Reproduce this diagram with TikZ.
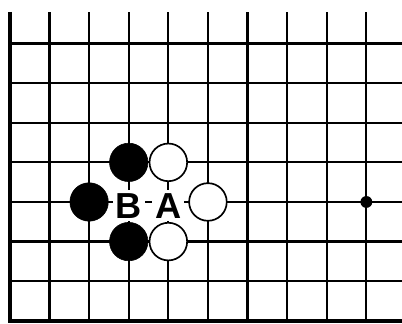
\documentclass[tikz,border=0pt]{standalone}
\usepackage{fontspec}
\setsansfont{Liberation Sans}
\usetikzlibrary{positioning}
\tikzset{
  gridline/.style={line width=1.6pt, draw=black},
  edgeline/.style={line width=2.8pt, draw=black},
  blackstone/.style={circle, fill=black, draw=black, minimum size=0.97cm, inner sep=0pt},
  whitestone/.style={circle, fill=white, draw=black, line width=1.2pt, minimum size=0.95cm, inner sep=0pt},
  hoshi/.style={circle, fill=black, minimum size=0.3cm, inner sep=0pt},
  pointlabel/.style={fill=white, inner sep=2.2pt, yshift=-0.1cm,
    font=\sffamily\bfseries\fontsize{26}{26}\selectfont}
}

\begin{document}
\begin{tikzpicture}
    \useasboundingbox (-0.25,-0.08) rectangle (9.9,8.1);
    % board lines
    \foreach \i in {1,...,9}
      \draw[gridline] (\i,0) -- (\i,7.8);
    \foreach \j in {1,...,7}
      \draw[gridline] (0,\j) -- (9.9,\j);
    \draw[edgeline] (0,7.8) -- (0,0) -- (9.9,0);
    % star point
    \node[hoshi] (star) at (9,3) {};
    % stones
    \node[blackstone] (b1) at (3,4) {};
    \node[blackstone] (b2) at (2,3) {};
    \node[blackstone] (b3) at (3,2) {};
    \node[whitestone] (w1) at (4,4) {};
    \node[whitestone] (w2) at (5,3) {};
    \node[whitestone] (w3) at (4,2) {};
    % marked points
    \node[pointlabel] (ptB) at (3,3) {B};
    \node[pointlabel] (ptA) at (4,3) {A};
  \end{tikzpicture}
\end{document}
